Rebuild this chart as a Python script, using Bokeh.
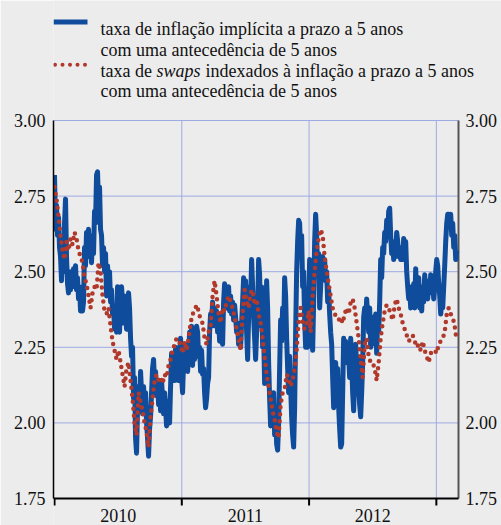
import numpy as np
from bokeh.plotting import figure
from bokeh.models import Range1d, LinearAxis, FixedTicker, NumeralTickFormatter, Label, BoxAnnotation
from bokeh.core.properties import value
from bokeh.embed import file_html
from bokeh.resources import INLINE

# ---------------- data ----------------
DATA_START = 2010.0
DATA_END = 2013.16

# implied 5y5y forward inflation rate (blue)
implied_5y5y = [
    2.82, 2.64, 2.72, 2.62, 2.68, 2.58, 2.55, 2.47, 2.58, 2.50,
    2.66, 2.74, 2.55, 2.46, 2.43, 2.50, 2.44, 2.50, 2.45, 2.51,
    2.47, 2.52, 2.44, 2.48, 2.41, 2.45, 2.37, 2.42, 2.37, 2.40,
    2.58, 2.52, 2.63, 2.55, 2.64, 2.56, 2.60, 2.53, 2.62, 2.56,
    2.70, 2.66, 2.82, 2.83, 2.72, 2.78, 2.64, 2.62, 2.52, 2.58,
    2.50, 2.56, 2.42, 2.52, 2.45, 2.50, 2.40, 2.44, 2.36, 2.38,
    2.31, 2.38, 2.30, 2.45, 2.40, 2.30, 2.42, 2.45, 2.40, 2.33,
    2.42, 2.37, 2.31, 2.40, 2.43, 2.38, 2.28, 2.22, 2.25, 2.08,
    2.15, 1.95, 1.90, 2.05, 2.12, 2.04, 2.17, 2.10, 2.03, 2.12,
    2.05, 2.10, 2.00, 1.95, 1.89, 1.98, 2.02, 2.10, 2.18, 2.21,
    2.13, 2.17, 2.09, 2.14, 2.06, 2.12, 2.04, 2.14, 2.08, 2.03,
    2.10, 2.05, 1.99, 2.07, 2.03, 2.00, 2.12, 2.23, 2.15, 2.20,
    2.14, 2.25, 2.18, 2.22, 2.14, 2.22, 2.28, 2.15, 2.10, 2.20,
    2.25, 2.18, 2.26, 2.17, 2.22, 2.30, 2.20, 2.32, 2.19, 2.28,
    2.21, 2.27, 2.32, 2.30, 2.22, 2.25, 2.17, 2.24, 2.16, 2.18,
    2.10, 2.05, 2.08, 2.13, 2.15, 2.30, 2.36, 2.32, 2.40, 2.34,
    2.38, 2.32, 2.37, 2.30, 2.35, 2.27, 2.36, 2.30, 2.26, 2.40,
    2.46, 2.38, 2.44, 2.40, 2.45, 2.37, 2.42, 2.36, 2.40, 2.34,
    2.39, 2.35, 2.30, 2.33, 2.26, 2.30, 2.25, 2.33, 2.40, 2.48,
    2.42, 2.47, 2.30, 2.21, 2.35, 2.45, 2.40, 2.54, 2.45, 2.35,
    2.28, 2.21, 2.30, 2.38, 2.54, 2.49, 2.32, 2.45, 2.25, 2.30,
    2.13, 2.20, 2.47, 2.38, 2.20, 2.08, 1.99, 2.08, 2.02, 2.10,
    1.96, 2.05, 1.93, 1.91, 2.00, 2.18, 2.34, 2.27, 2.38, 2.30,
    2.48, 2.42, 2.28, 2.18, 2.10, 2.22, 2.12, 2.02, 1.96, 1.92,
    2.05, 2.30, 2.50, 2.60, 2.67, 2.66, 2.55, 2.62, 2.45, 2.50,
    2.34, 2.25, 2.30, 2.25, 2.40, 2.54, 2.45, 2.35, 2.24, 2.40,
    2.60, 2.69, 2.62, 2.50, 2.56, 2.38, 2.45, 2.52, 2.55, 2.48,
    2.54, 2.47, 2.50, 2.40, 2.44, 2.36, 2.30, 2.26, 2.15, 2.05,
    2.10, 2.20, 2.12, 2.18, 2.05, 1.98, 1.92, 1.93, 2.10, 2.28,
    2.22, 2.27, 2.20, 2.25, 2.22, 2.15, 2.28, 2.20, 2.10, 2.04,
    2.15, 2.26, 2.18, 2.22, 2.12, 2.06, 2.02, 2.10, 2.20, 2.35,
    2.38, 2.33, 2.41, 2.35, 2.30, 2.38, 2.25, 2.32, 2.26, 2.35,
    2.30, 2.36, 2.23, 2.34, 2.30, 2.40, 2.54, 2.48, 2.58, 2.56,
    2.63, 2.60, 2.67, 2.62, 2.70, 2.71, 2.62, 2.56, 2.60, 2.54,
    2.58, 2.55, 2.63, 2.60, 2.55, 2.58, 2.54, 2.57, 2.54, 2.61,
    2.56, 2.60, 2.50, 2.45, 2.41, 2.44, 2.38, 2.45, 2.40, 2.46,
    2.38, 2.51, 2.42, 2.40, 2.48, 2.38, 2.44, 2.37, 2.45, 2.40,
    2.49, 2.42, 2.47, 2.41, 2.46, 2.43, 2.49, 2.43, 2.46, 2.41,
    2.45, 2.50, 2.54, 2.52, 2.46, 2.42, 2.36, 2.40, 2.38, 2.45,
    2.52, 2.60, 2.66, 2.69, 2.69, 2.66, 2.69, 2.62, 2.66, 2.58,
    2.62, 2.54, 2.57,
]

# 5y5y forward inflation-linked swap rate (red, dotted)
swap_5y5y = [
    2.78, 2.74, 2.68, 2.62, 2.57, 2.54, 2.60, 2.57, 2.61, 2.59,
    2.63, 2.61, 2.57, 2.55, 2.53, 2.48, 2.46, 2.42, 2.38, 2.43,
    2.45, 2.44, 2.53, 2.50, 2.42, 2.37, 2.36, 2.38, 2.32, 2.27,
    2.24, 2.21, 2.24, 2.20, 2.16, 2.12, 2.18, 2.20, 2.14, 2.08,
    2.00, 1.96, 2.10, 2.07, 2.04, 2.00, 1.97, 1.92, 2.02, 2.08,
    2.14, 2.16, 2.14, 2.15, 2.13, 2.16, 2.15, 2.19, 2.21, 2.24,
    2.26, 2.28, 2.27, 2.26, 2.23, 2.27, 2.24, 2.28, 2.33, 2.36,
    2.37, 2.39, 2.37, 2.34, 2.33, 2.28, 2.26, 2.30, 2.32, 2.42,
    2.47, 2.42, 2.36, 2.33, 2.38, 2.37, 2.40, 2.42, 2.40, 2.38,
    2.35, 2.31, 2.28, 2.24, 2.36, 2.44, 2.40, 2.38, 2.43, 2.44,
    2.39, 2.41, 2.36, 2.33, 2.28, 2.22, 2.16, 2.12, 2.08, 2.04,
    2.01, 1.97, 1.95, 2.06, 2.10, 2.11, 2.16, 2.15, 2.12, 2.14,
    2.18, 2.24, 2.34, 2.38, 2.33, 2.31, 2.33, 2.37, 2.30, 2.42,
    2.50, 2.57, 2.61, 2.64, 2.62, 2.55, 2.50, 2.46, 2.42, 2.38,
    2.36, 2.35, 2.34, 2.35, 2.33, 2.36, 2.38, 2.36, 2.40, 2.41,
    2.38, 2.33, 2.28, 2.21, 2.15, 2.26, 2.28, 2.22, 2.20, 2.20,
    2.18, 2.14, 2.20, 2.28, 2.33, 2.37, 2.39, 2.38, 2.36, 2.34,
    2.39, 2.41, 2.38, 2.36, 2.33, 2.31, 2.29, 2.27, 2.28, 2.29,
    2.27, 2.25, 2.26, 2.24, 2.27, 2.24, 2.22, 2.20, 2.23, 2.24,
    2.24, 2.23, 2.26, 2.27, 2.28, 2.30, 2.36, 2.38, 2.36, 2.35,
    2.32, 2.27,
]

Y_TICKS = [1.75, 2.00, 2.25, 2.50, 2.75, 3.00]
Y_TICK_LABELS = ["1.75", "2.00", "2.25", "2.50", "2.75", "3.00"]
YEAR_BOUNDS = [2010, 2011, 2012, 2013]
YEAR_LABELS = ["2010", "2011", "2012"]
X_START, X_END = 2009.992, 2013.174     # left / right edges of the chart box

LEGEND_1 = ["taxa de inflação implícita a prazo a 5 anos",
            "com uma antecedência de 5 anos"]
LEGEND_2_PARTS = ["taxa de ", "swaps", "indexados à inflação a prazo a 5 anos"]
LEGEND_2_LINE2 = "com uma antecedência de 5 anos"

# ---------------- style / layout ----------------
BG = "#ececec"
BLUE = "#0f4c9c"
RED = "#b0392b"
GRID = "#9eaae2"
TXT = "#111111"
FONT = "Liberation Serif"
FS = "18px"

W, H = 501, 525
FL, BOX_R = 53, 458          # canvas px of left axis / right axis
AX_TOP, AX_BOT = 120, 498    # canvas px of 3.00 and 1.75
Y_LO, Y_HI = Y_TICKS[0], Y_TICKS[-1]
PPU = (AX_BOT - AX_TOP) / (Y_HI - Y_LO)       # px per y unit
PPY = (BOX_R - FL) / (X_END - X_START)         # px per year

p = figure(width=W, height=H, output_backend="svg", toolbar_location=None,
           x_range=Range1d(X_START, X_START + (W - FL) / PPY),
           y_range=Range1d(Y_LO - (H - AX_BOT) / PPU, Y_HI + AX_TOP / PPU),
           min_border_left=FL, min_border_right=0,
           min_border_top=0, min_border_bottom=0,
           background_fill_color=BG, border_fill_color=BG,
           outline_line_color=None,
           x_axis_location=None, y_axis_location=None)
p.xgrid.visible = False
p.ygrid.visible = False

# left axis (real axis)
yl = LinearAxis(ticker=FixedTicker(ticks=Y_TICKS), formatter=NumeralTickFormatter(format="0.00"),
                bounds=(Y_LO, Y_HI))
yl.axis_line_color = "black"
yl.axis_line_width = 1.5
yl.major_tick_out = 0
yl.major_tick_in = 0
yl.minor_tick_line_color = None
yl.major_label_standoff = 8
yl.major_label_text_font = FONT
yl.major_label_text_font_size = FS
yl.major_label_text_color = TXT
p.add_layout(yl, "left")

# grid lines
n_y = len(Y_TICKS)
p.segment(x0=[X_START] * n_y, y0=Y_TICKS, x1=[X_END] * n_y, y1=Y_TICKS,
          line_color=GRID, line_width=1, level="underlay")
vb = YEAR_BOUNDS[1:]
p.segment(x0=vb, y0=[Y_LO] * len(vb), x1=vb, y1=[Y_HI] * len(vb),
          line_color=GRID, line_width=1, level="underlay")

# right axis: line + labels
p.segment(x0=[X_END], y0=[Y_LO], x1=[X_END], y1=[Y_HI], line_color="#555555", line_width=2)
p.text(x=[X_END] * n_y, y=Y_TICKS, text=Y_TICK_LABELS, x_offset=7,
       text_font=value(FONT), text_font_size=value(FS), text_color=TXT,
       text_align="left", text_baseline="middle")

# bottom axis line, year-boundary ticks, year labels
p.segment(x0=[X_START], y0=[Y_LO], x1=[X_END], y1=[Y_LO], line_color="black", line_width=2)
p.ray(x=YEAR_BOUNDS, y=[Y_LO] * len(YEAR_BOUNDS), length=7, length_units="screen",
      angle=-np.pi / 2, line_color="black", line_width=2)
mids = [(a + b) / 2 for a, b in zip(YEAR_BOUNDS[:-1], YEAR_BOUNDS[1:])]
p.text(x=mids, y=[Y_LO] * len(mids), text=YEAR_LABELS, y_offset=16.5,
       text_font=value(FONT), text_font_size=value(FS), text_color=TXT,
       text_align="center", text_baseline="middle")

# series
t_blue = np.linspace(DATA_START, DATA_END, len(implied_5y5y))
t_red = np.linspace(DATA_START, DATA_END, len(swap_5y5y))
p.line(t_blue, implied_5y5y, line_color=BLUE, line_width=5, line_join="round")
p.line(t_red, swap_5y5y, line_color=RED, line_width=4.5, line_dash="0 7", line_cap="round")


# legend (frame-relative screen units: x from frame left, y up from frame bottom)
def sx(x):
    return x - FL


def sy(y):
    return H - y


def label(text, x, y, style="normal"):
    p.add_layout(Label(x=sx(x), y=sy(y), x_units="screen", y_units="screen", text=text,
                       text_font=FONT, text_font_size=FS, text_font_style=style,
                       text_color=TXT, text_align="left", text_baseline="alphabetic"))


def box(l, r, t, b, color, radius=0):
    p.add_layout(BoxAnnotation(left=sx(l), right=sx(r), top=sy(t), bottom=sy(b),
                               left_units="screen", right_units="screen",
                               top_units="screen", bottom_units="screen",
                               fill_color=color, fill_alpha=1, line_color=None,
                               border_radius=radius))


box(53, 87, 19, 24, BLUE)
for cx in [54.5, 62, 69.5, 77, 84.5]:
    box(cx - 2, cx + 2, 62.3, 66.3, RED, radius=2)

label(LEGEND_1[0], 100, 28.3)
label(LEGEND_1[1], 100, 49.3)
label(LEGEND_2_PARTS[0], 100, 70.3)
label(LEGEND_2_PARTS[1], 156, 70.3, style="italic")
label(LEGEND_2_PARTS[2], 205, 70.3)
label(LEGEND_2_LINE2, 100, 90.8)

open("out.html", "w").write(file_html(p, INLINE))
